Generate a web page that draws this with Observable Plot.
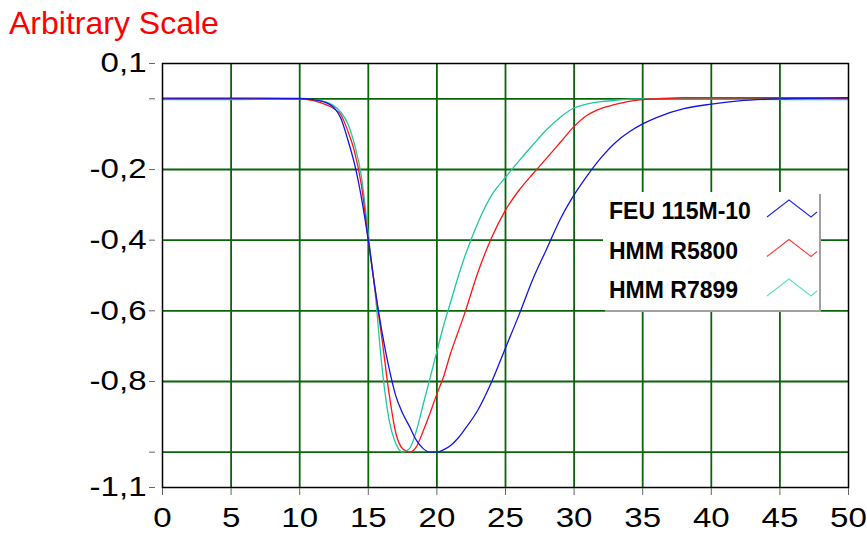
<!DOCTYPE html>
<html>
<head>
<meta charset="utf-8">
<script src="https://cdn.jsdelivr.net/npm/d3@7"></script>
<script src="https://cdn.jsdelivr.net/npm/@observablehq/plot@0.6"></script>
<style>
  html, body { margin: 0; padding: 0; background: #fff; }
  #wrap { position: relative; width: 867px; height: 536px; overflow: hidden; }
  #title { position: absolute; left: 9px; top: 7px; font: 32px/1 "Liberation Sans", Arial, sans-serif; color: #ff0000; white-space: nowrap; }
  #legend { position: absolute; left: 603px; top: 192px; width: 216px; height: 118px; background: #fff; box-shadow: 2px 2px 0 #a0a0a0; }
</style>
</head>
<body>
<div id="wrap">
  <div id="chart"></div>
  <div id="title">Arbitrary Scale</div>
  <div id="legend"></div>
</div>
<script>
// ---- data ----
const time = [0,5,10,11,12,12.5,13,13.5,14,14.5,15,15.5,16,16.5,17,17.5,18,18.5,19,19.5,20,20.5,21,21.5,22,23,24,25,26,27,28,29,30,31,32,33,34,35,36,38,40,42,45,50];
const feu115M10 = [0.002,0.002,0.001,-0.002,-0.012,-0.025,-0.055,-0.115,-0.185,-0.28,-0.40,-0.54,-0.66,-0.76,-0.84,-0.89,-0.927,-0.966,-0.99,-1.0,-1.0,-0.993,-0.981,-0.962,-0.937,-0.88,-0.80,-0.705,-0.61,-0.51,-0.425,-0.34,-0.272,-0.215,-0.165,-0.124,-0.094,-0.071,-0.053,-0.028,-0.015,-0.006,0.0,0.003];
const hmmR5800 = [0,0,0,-0.005,-0.018,-0.028,-0.045,-0.09,-0.15,-0.245,-0.40,-0.54,-0.68,-0.83,-0.945,-0.99,-1.0,-0.985,-0.94,-0.89,-0.835,-0.785,-0.72,-0.665,-0.61,-0.49,-0.392,-0.315,-0.258,-0.212,-0.168,-0.123,-0.078,-0.045,-0.027,-0.016,-0.007,-0.002,0,0.003,0.003,0.003,0.003,0.001];
const hmmR7899 = [-0.002,-0.002,-0.001,-0.002,-0.01,-0.02,-0.038,-0.07,-0.13,-0.22,-0.385,-0.55,-0.76,-0.905,-0.975,-1.0,-0.99,-0.94,-0.865,-0.79,-0.715,-0.64,-0.575,-0.51,-0.45,-0.35,-0.272,-0.222,-0.175,-0.13,-0.087,-0.052,-0.026,-0.014,-0.008,-0.004,-0.001,0,0,0,0,-0.001,-0.002,-0.002];

const seriesNames = ["FEU 115M-10", "HMM R5800", "HMM R7899"];
const seriesColors = ["#1414e6", "#ff1414", "#22c8a0"];
const legendColors = ["#2828e8", "#ff3c3c", "#5ee0c0"];
const seriesValues = [feu115M10, hmmR5800, hmmR7899];

const xTicks = [0,5,10,15,20,25,30,35,40,45,50];
const xGrid = [5,10,15,20,25,30,35,40,45];
const yTicks = [0.1, 0, -0.2, -0.4, -0.6, -0.8, -1.0, -1.1];
const yTickLabels = ["0,1", "", "-0,2", "-0,4", "-0,6", "-0,8", "", "-1,1"];
const yGrid = [0, -0.2, -0.4, -0.6, -0.8, -1.0];

// ---- build table ----
const rows = [];
// draw order: green, red, blue (blue on top)
[2, 1, 0].forEach(s => {
  time.forEach((t, i) => rows.push({t, v: seriesValues[s][i], series: seriesNames[s]}));
});

const gridColor = "#0a640a";

const chart = Plot.plot({
  width: 867,
  height: 536,
  marginLeft: 162,
  marginRight: 19,
  marginTop: 63,
  marginBottom: 49,
  style: {fontFamily: '"Liberation Sans", Arial, sans-serif', background: "white", color: "black"},
  x: {domain: [0, 50], label: null},
  y: {domain: [-1.1, 0.1], label: null},
  color: {domain: seriesNames, range: seriesColors},
  marks: [
    Plot.ruleX(xGrid, {stroke: gridColor, strokeWidth: 1.8}),
    Plot.ruleY(yGrid, {stroke: gridColor, strokeWidth: 1.8}),
    Plot.line(rows, {x: "t", y: "v", z: "series", stroke: "series", strokeWidth: 1.3, curve: "monotone-x"}),
    Plot.frame({stroke: "black", strokeWidth: 1.5}),
    Plot.axisX({ticks: xTicks, tickFormat: d => String(d), tickSize: 7, tickPadding: 12, dy: 1, fontSize: 28, stroke: "#666", label: null}),
    Plot.axisY({ticks: yTicks, tickFormat: d => yTickLabels[yTicks.findIndex(v => Math.abs(v - d) < 1e-9)], tickSize: 6, tickPadding: 3, dx: -7, fontSize: 28, stroke: "#666", label: null})
  ]
});
document.getElementById("chart").appendChild(chart);

// widen tick label glyphs to match the reference
chart.querySelectorAll('g[aria-label="x-axis tick label"] text, g[aria-label="y-axis tick label"] text').forEach(el => {
  const w = el.getComputedTextLength();
  if (w > 0) {
    el.setAttribute("textLength", (w * 1.18).toFixed(1));
    el.setAttribute("lengthAdjust", "spacingAndGlyphs");
  }
});

// ---- legend ----
const ns = "http://www.w3.org/2000/svg";
const lg = document.createElementNS(ns, "svg");
lg.setAttribute("width", 216);
lg.setAttribute("height", 118);
lg.style.fontFamily = '"Liberation Sans", Arial, sans-serif';
seriesNames.forEach((name, i) => {
  const oy = i * 39.5;
  const tx = document.createElementNS(ns, "text");
  tx.setAttribute("x", 6);
  tx.setAttribute("y", 27 + oy);
  tx.setAttribute("font-size", 23);
  tx.setAttribute("font-weight", "bold");
  tx.setAttribute("fill", "#000");
  tx.textContent = name;
  lg.appendChild(tx);
  const pl = document.createElementNS(ns, "polyline");
  pl.setAttribute("points", `164,${25 + oy} 186,${8 + oy} 208,${25 + oy} 214,${20 + oy}`);
  pl.setAttribute("fill", "none");
  pl.setAttribute("stroke", legendColors[i]);
  pl.setAttribute("stroke-width", 1.1);
  lg.appendChild(pl);
});
document.getElementById("legend").appendChild(lg);
</script>
</body>
</html>
